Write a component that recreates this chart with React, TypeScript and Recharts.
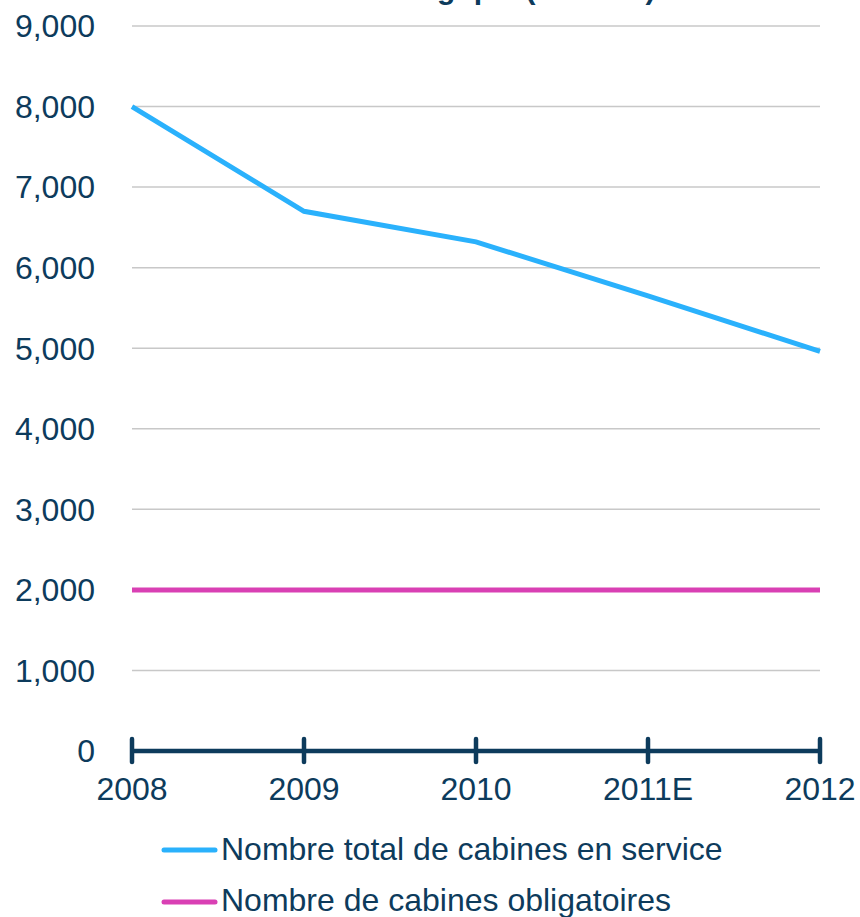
import React from "react";
import { LineChart, Line, XAxis, YAxis, CartesianGrid, Legend } from "recharts";

const years = ["2008", "2009", "2010", "2011E", "2012"];
const totalCabines = [8000, 6700, 6320, 5650, 4960];
const obligatoires = [2000, 2000, 2000, 2000, 2000];
const yTicks = [0, 1000, 2000, 3000, 4000, 5000, 6000, 7000, 8000, 9000];
const seriesKeys = ["total", "oblig"];
const seriesNames = ["Nombre total de cabines en service", "Nombre de cabines obligatoires"];
const seriesColors = ["#2AB1FC", "#D940B4"];
const titleText = "Cabines en Belgique (2008-12)";

const data = years.map((y, i) => ({ year: y, total: totalCabines[i], oblig: obligatoires[i] }));

const NAVY = "#0D3B5C";
const FONT = "'Liberation Sans', Arial, sans-serif";

const XTick = (props: any) => {
  const { x, y, payload } = props;
  return (
    <g>
      <line x1={x} x2={x} y1={y - 12} y2={y + 11} stroke={NAVY} strokeWidth={4.5} strokeLinecap="round" />
      <text x={x} y={y + 49} textAnchor="middle" fontSize={32} fill={NAVY} fontFamily={FONT}>
        {payload.value}
      </text>
    </g>
  );
};

const LegendContent = () => {
  return (
    <svg width={860} height={110} style={{ display: "block" }}>
      {seriesNames.map((name, i) => (
        <g key={i}>
          <line x1={164} x2={215} y1={43 + i * 52} y2={43 + i * 52} stroke={seriesColors[i]} strokeWidth={5} strokeLinecap="round" />
          <text x={221} y={53 + i * 51} fontSize={32} fill={NAVY} fontFamily={FONT}>
            {name}
          </text>
        </g>
      ))}
    </svg>
  );
};

export default function App() {
  return (
    <div style={{ position: "absolute", left: 0, top: 0, width: 860, height: 917, overflow: "hidden", background: "#fff", fontFamily: FONT }}>
      <div
        style={{
          position: "absolute",
          left: 222,
          top: -26,
          fontSize: 30,
          lineHeight: "30px",
          fontWeight: "bold",
          color: NAVY,
          whiteSpace: "nowrap",
          fontFamily: FONT,
        }}
      >
        {titleText}
      </div>
      <LineChart width={860} height={917} data={data} margin={{ top: 26, right: 40, left: 0, bottom: 0 }}>
        <CartesianGrid vertical={false} stroke="#C8C8C8" strokeWidth={1.5} />
        <XAxis
          dataKey="year"
          scale="point"
          padding={{ left: 0, right: 0 }}
          height={56}
          interval={0}
          tickLine={false}
          tickSize={0}
          tickMargin={0}
          axisLine={{ stroke: NAVY, strokeWidth: 4.5 }}
          tick={<XTick />}
        />
        <YAxis
          width={132}
          domain={[0, 9000]}
          ticks={yTicks}
          interval={0}
          axisLine={false}
          tickLine={false}
          tickSize={0}
          tickMargin={37}
          tickFormatter={(v: number) => v.toLocaleString("en-US")}
          tick={{ fontSize: 32, fill: NAVY, fontFamily: FONT }}
        />
        <Legend
          layout="vertical"
          verticalAlign="bottom"
          align="center"
          wrapperStyle={{ left: 0, bottom: 0, width: 860, height: 110 }}
          content={<LegendContent />}
        />
        {seriesKeys.map((k, i) => (
          <Line
            key={k}
            type="linear"
            dataKey={k}
            name={seriesNames[i]}
            stroke={seriesColors[i]}
            strokeWidth={5}
            dot={false}
            activeDot={false}
            isAnimationActive={false}
          />
        ))}
      </LineChart>
    </div>
  );
}
